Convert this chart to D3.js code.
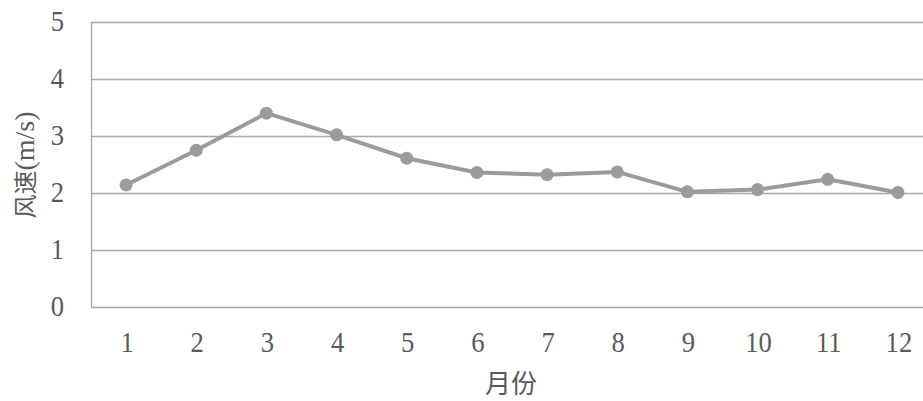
<!DOCTYPE html>
<html>
<head>
<meta charset="utf-8">
<script src="https://cdn.jsdelivr.net/npm/d3@7/dist/d3.min.js"></script>
<style>
  html, body { margin: 0; padding: 0; background: #fff; }
  svg { display: block; }
</style>
</head>
<body>
<svg id="chart" width="923" height="401"></svg>
<script>
// Monthly mean wind speed
const months = ["1", "2", "3", "4", "5", "6", "7", "8", "9", "10", "11", "12"];
const windSpeed = [2.14, 2.75, 3.40, 3.02, 2.61, 2.36, 2.32, 2.37, 2.02, 2.06, 2.24, 2.01];
const yTicks = [0, 1, 2, 3, 4, 5];
const xTitle = "月份";
const yTitleCjk = "风速";
const yTitleUnit = "(m/s)";

const svg = d3.select("#chart");
const plot = { left: 91, right: 933, top: 22, bottom: 307 };

const x = d3.scaleBand().domain(months).range([plot.left, plot.right]);
const y = d3.scaleLinear().domain([0, 5]).range([plot.bottom, plot.top]);

const numFont = "'Liberation Serif', 'Times New Roman', serif";
const cjkFont = "'Noto Sans CJK SC', sans-serif";
const textColor = "#595959";
const numSize = 29;
const squeeze = 0.92; // narrow the serif digits slightly

// horizontal gridlines
svg.append("g")
  .selectAll("line")
  .data(yTicks)
  .join("line")
  .attr("x1", plot.left)
  .attr("x2", plot.right)
  .attr("y1", d => y(d) + 0.5)
  .attr("y2", d => y(d) + 0.5)
  .attr("stroke", "#a6a6a6")
  .attr("stroke-width", 1.3);

// left axis line
svg.append("line")
  .attr("x1", plot.left + 0.5).attr("x2", plot.left + 0.5)
  .attr("y1", plot.top).attr("y2", plot.bottom + 1)
  .attr("stroke", "#a6a6a6")
  .attr("stroke-width", 1.3);

// y tick labels
svg.append("g")
  .selectAll("text")
  .data(yTicks)
  .join("text")
  .attr("transform", d => `translate(64,${y(d) + 9}) scale(${squeeze},1)`)
  .attr("text-anchor", "end")
  .attr("font-family", numFont)
  .attr("font-size", numSize)
  .attr("fill", textColor)
  .text(d => d);

// x tick labels
svg.append("g")
  .selectAll("text")
  .data(months)
  .join("text")
  .attr("transform", d => `translate(${x(d) + x.bandwidth() / 2 + 1},352) scale(${squeeze},1)`)
  .attr("text-anchor", "middle")
  .attr("font-family", numFont)
  .attr("font-size", numSize)
  .attr("fill", textColor)
  .text(d => d);

// axis titles
svg.append("text")
  .attr("x", 511)
  .attr("y", 393)
  .attr("text-anchor", "middle")
  .attr("font-family", cjkFont)
  .attr("font-size", 26)
  .attr("fill", textColor)
  .text(xTitle);

const yTitle = svg.append("text")
  .attr("transform", "translate(34,165) rotate(-90)")
  .attr("text-anchor", "middle")
  .attr("fill", textColor);
yTitle.append("tspan")
  .attr("font-family", cjkFont)
  .attr("font-size", 24)
  .text(yTitleCjk);
yTitle.append("tspan")
  .attr("font-family", numFont)
  .attr("font-size", 28)
  .text(yTitleUnit);

// series line and markers
const cx = (d, i) => x(months[i]) + x.bandwidth() / 2;
const line = d3.line()
  .x(cx)
  .y(d => y(d));

svg.append("path")
  .datum(windSpeed)
  .attr("d", line)
  .attr("fill", "none")
  .attr("stroke", "#9b9b9b")
  .attr("stroke-width", 4)
  .attr("stroke-linejoin", "round");

svg.append("g")
  .selectAll("circle")
  .data(windSpeed)
  .join("circle")
  .attr("cx", cx)
  .attr("cy", d => y(d))
  .attr("r", 6.5)
  .attr("fill", "#9b9b9b");
</script>
</body>
</html>
